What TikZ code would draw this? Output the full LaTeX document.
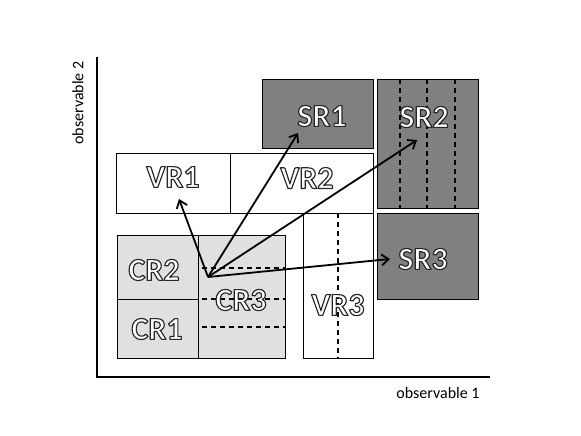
\documentclass[tikz,border=0pt]{standalone}
\usepackage{fontspec}
\setmainfont{Carlito}
\usepackage{tikz}
\usetikzlibrary{arrows.meta}
\definecolor{sigfill}{RGB}{128,128,128}
\definecolor{ctlfill}{RGB}{224,224,224}

% white letters with a dark rim (pdf text render mode 2)
\newcommand{\rimtext}[1]{\special{pdf:code 0.15 G 1.15 w 1 j 2 Tr}#1\special{pdf:code 0 Tr}}

\begin{document}
\begin{tikzpicture}[x=1pt, y=-1pt]
  \tikzset{
    region/.style={draw=black, line width=1.1pt, inner sep=0pt, anchor=north west},
    lbl/.style={font=\fontsize{32}{36}\selectfont\bfseries, text=white, inner sep=0pt},
    split/.style={line width=1.1pt, dash pattern=on 5pt off 4pt},
    axis/.style={line width=1.5pt},
    arrow/.style={line width=1.8pt, -{Straight Barb[length=7pt, width=11pt, line width=1.8pt]}}
  }
  \useasboundingbox (0,0) rectangle (581,436);

  % axes
  \coordinate (corner) at (97,377);
  \coordinate (ytop) at (97,57);
  \coordinate (xend) at (490,377);
  \draw[axis] (ytop) -- (corner) -- (xend);
  \node[font=\fontsize{16}{18}\selectfont, rotate=90] (ylab) at (78,103) {observable 2};
  \node[font=\fontsize{16}{18}\selectfont] (xlab) at (438,393) {observable 1};

  % signal regions
  \node[region, fill=sigfill, minimum width=111pt, minimum height=69pt] (sr1) at (262,79) {};
  \node[region, fill=sigfill, minimum width=101pt, minimum height=129pt] (sr2) at (377,79) {};
  \node[region, fill=sigfill, minimum width=101pt, minimum height=86pt] (sr3) at (377,213) {};
  \foreach \xx in {400,427,455}
    \draw[split] (\xx,79) -- (\xx,208);

  % validation regions
  \node[region, fill=white, minimum width=114pt, minimum height=60pt] (vr1) at (116,153) {};
  \node[region, fill=white, minimum width=143pt, minimum height=60pt] (vr2) at (230,153) {};
  \node[region, fill=white, minimum width=70pt, minimum height=145pt] (vr3) at (303,213) {};
  \draw[split] (338,213) -- (338,358);

  % control regions
  \node[region, fill=ctlfill, minimum width=81pt, minimum height=64pt] (cr2) at (117,235) {};
  \node[region, fill=ctlfill, minimum width=81pt, minimum height=59pt] (cr1) at (117,299) {};
  \node[region, fill=ctlfill, minimum width=87pt, minimum height=123pt] (cr3) at (198,235) {};
  \foreach \yy in {268,299,327}
    \draw[split] (202,\yy) -- (285,\yy);

  % labels
  \node[lbl] (sr1t) at (322,116) {\rimtext{SR1}};
  \node[lbl] (sr2t) at (424,117) {\rimtext{SR2}};
  \node[lbl] (sr3t) at (423,259) {\rimtext{SR3}};
  \node[lbl] (vr1t) at (173,177) {\rimtext{VR1}};
  \node[lbl] (vr2t) at (307,178) {\rimtext{VR2}};
  \node[lbl] (vr3t) at (338,305) {\rimtext{VR3}};
  \node[lbl] (cr2t) at (154,270) {\rimtext{CR2}};
  \node[lbl] (cr1t) at (157,329) {\rimtext{CR1}};
  \node[lbl] (cr3t) at (241,300) {\rimtext{CR3}};

  % extrapolation arrows
  \coordinate (origin) at (208,277);
  \coordinate (tovr1) at (179,199);
  \coordinate (tosr1) at (298,133);
  \coordinate (tosr2) at (417,140);
  \coordinate (tosr3) at (390,259);
  \draw[arrow] (origin) -- (tovr1);
  \draw[arrow] (origin) -- (tosr1);
  \draw[arrow] (origin) -- (tosr2);
  \draw[arrow] (origin) -- (tosr3);
\end{tikzpicture}
\end{document}
